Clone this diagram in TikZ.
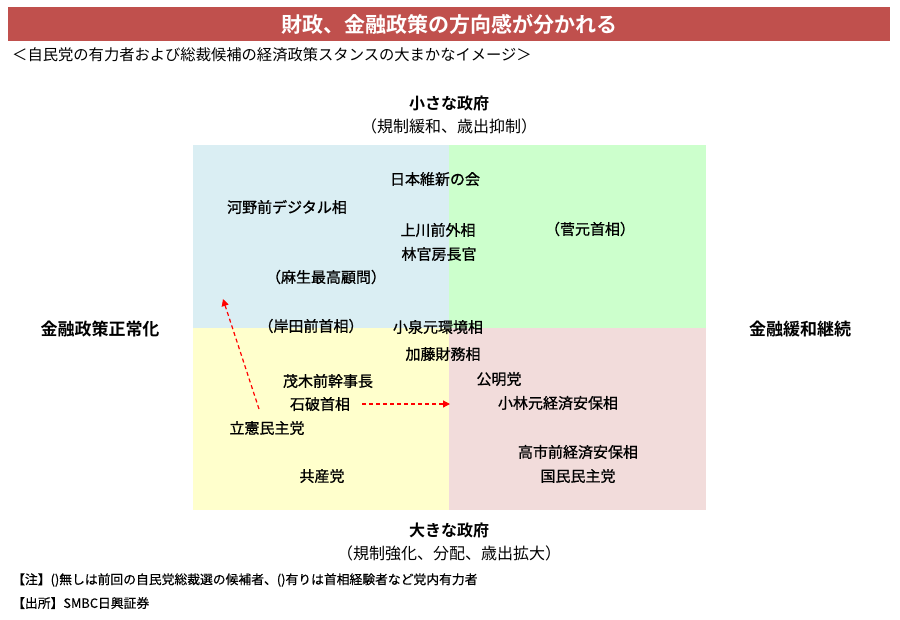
\documentclass[tikz,border=0pt]{standalone}
\usepackage{fontspec}
\setmainfont{Noto Sans CJK JP}
\newfontfamily\jpreg{Noto Sans CJK JP}
\newfontfamily\jpmed{Noto Sans CJK JP}[FakeBold=0.9]
\newfontfamily\jpnote{Noto Sans CJK JP}[FakeBold=0.4]
\newfontfamily\jpbold{Noto Sans CJK JP Bold}
\usetikzlibrary{arrows.meta}
\definecolor{barred}{HTML}{C0504D}
\definecolor{qblue}{HTML}{DAEEF3}
\definecolor{qgreen}{HTML}{CCFFCC}
\definecolor{qyellow}{HTML}{FFFFCC}
\definecolor{qpink}{HTML}{F2DCDB}
\definecolor{arrred}{HTML}{FF0000}
\tikzset{
  item/.style={inner sep=0pt, font=\jpmed\fontsize{15}{15}\selectfont},
  axis/.style={inner sep=0pt, font=\jpbold\fontsize{16}{16}\selectfont},
  axissub/.style={inner sep=0pt, font=\jpreg\fontsize{16}{16}\selectfont},
  sidelabel/.style={inner sep=0pt, font=\jpbold\fontsize{17}{17}\selectfont},
  note/.style={inner sep=0pt, anchor=west, font=\jpnote\fontsize{12.8}{12.8}\selectfont},
  movearrow/.style={draw=arrred, line width=1.2pt, dash pattern=on 4pt off 3pt, -{Triangle[length=7pt,width=7pt]}},
}
\begin{document}
\begin{tikzpicture}[x=1pt,y=-1pt]
\useasboundingbox (0,0) rectangle (900,619);
\fill[white] (0,0) rectangle (900,619);
% title bar
\fill[barred] (8,7) rectangle (890,41);
\node[inner sep=0pt, text=white, font=\jpbold\fontsize{21}{21}\selectfont] (title) at (449,24) {財政、金融政策の方向感が分かれる};
\node[inner sep=0pt, anchor=west, font=\jpreg\fontsize{15.3}{15.3}\selectfont] (subtitle) at (12,55) {＜自民党の有力者および総裁候補の経済政策スタンスの大まかなイメージ＞};
% quadrants
\fill[qblue] (193,145) rectangle (449,328);
\fill[qgreen] (449,145) rectangle (706,328);
\fill[qyellow] (193,328) rectangle (449,510);
\fill[qpink] (449,328) rectangle (706,510);
% axis labels
\node[axis] (small) at (449,103) {小さな政府};
\node[axissub] (smallsub) at (449,126) {（規制緩和、歳出抑制）};
\node[axis] (big) at (449,530) {大きな政府};
\node[axissub] (bigsub) at (449,553) {（規制強化、分配、歳出拡大）};
\node[sidelabel] (normal) at (100,329) {金融政策正常化};
\node[sidelabel] (easing) at (800,329) {金融緩和継続};
% items
\node[item] (ishin) at (435,179) {日本維新の会};
\node[item] (kono) at (287,207) {河野前デジタル相};
\node[item] (kamikawa) at (438,230) {上川前外相};
\node[item] (hayashi) at (439,254) {林官房長官};
\node[item] (aso) at (326,277) {（麻生最高顧問）};
\node[item] (suga) at (590,229) {（菅元首相）};
\node[item] (kishida) at (311,326) {（岸田前首相）};
\node[item] (koizumi) at (438,327) {小泉元環境相};
\node[item] (kato) at (443,354) {加藤財務相};
\node[item] (motegi) at (328,381) {茂木前幹事長};
\node[item] (komei) at (499,379) {公明党};
\node[item] (ishiba) at (320,404) {石破首相};
\node[item] (kobayashi) at (558,403) {小林元経済安保相};
\node[item] (rikken) at (267,428) {立憲民主党};
\node[item] (takaichi) at (578,452) {高市前経済安保相};
\node[item] (kokumin) at (578,476) {国民民主党};
\node[item] (kyosan) at (322,476) {共産党};
% arrows
\coordinate (rikkenstart) at (259,409);
\coordinate (rikkenend) at (223,299);
\coordinate (ishibastart) at (362,404);
\coordinate (ishibaend) at (450,404);
\draw[movearrow] (rikkenstart) -- (rikkenend);
\draw[movearrow] (ishibastart) -- (ishibaend);
% notes
\node[note] (note1) at (12,580) {【注】()無しは前回の自民党総裁選の候補者、()有りは首相経験者など党内有力者};
\node[note] (note2) at (12,603) {【出所】SMBC日興証券};
\end{tikzpicture}
\end{document}
